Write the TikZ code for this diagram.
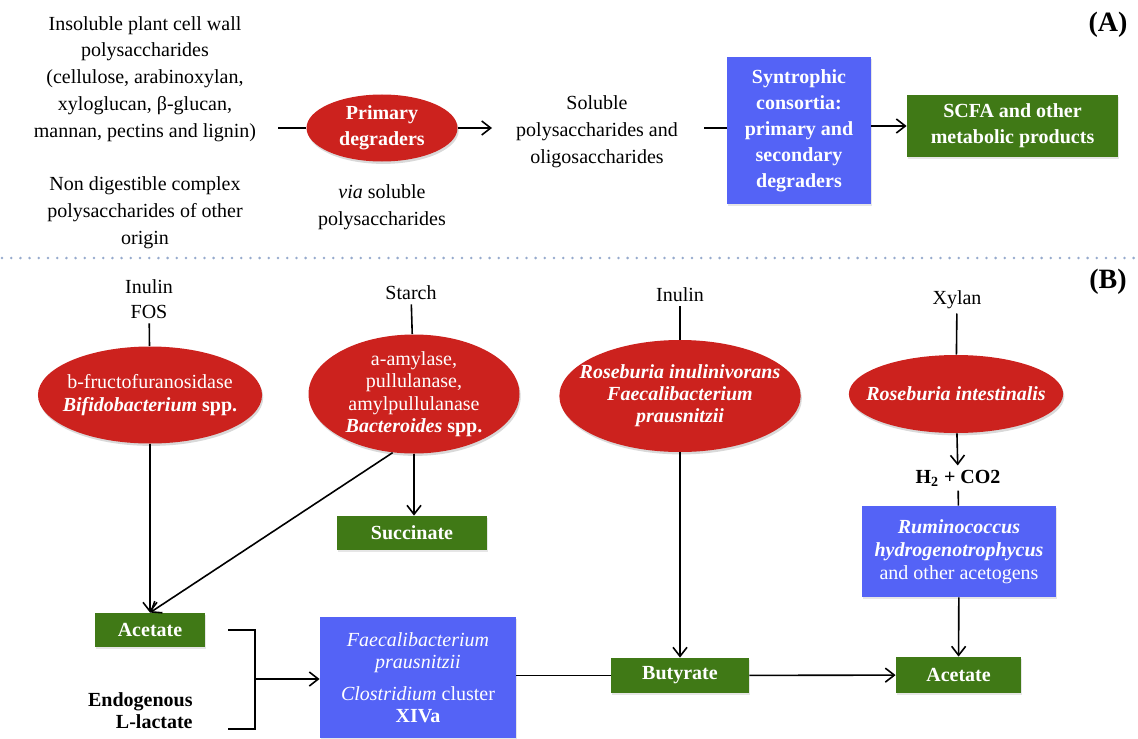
\documentclass[tikz,border=0pt]{standalone}
\usepackage{fontspec}
\setmainfont{Liberation Serif}
\usetikzlibrary{positioning, shapes.geometric, arrows.meta, shadows}

\definecolor{degred}{RGB}{204,34,30}
\definecolor{consblue}{RGB}{84,99,246}
\definecolor{prodgreen}{RGB}{64,121,22}
\definecolor{dotblue}{RGB}{150,170,205}

\begin{document}
\begin{tikzpicture}[x=0.5pt, y=-0.5pt, >={Straight Barb[length=4.5pt, width=7pt]},
    every node/.style={inner sep=2pt},
    plain/.style={align=center, font=\fontsize{10}{13.4}\selectfont},
    degrader/.style={ellipse, fill=degred, text=white, align=center, inner sep=0pt,
        font=\fontsize{10}{11.5}\selectfont,
        drop shadow={shadow xshift=0.6pt, shadow yshift=-1.2pt, opacity=0.3}},
    consortium/.style={rectangle, fill=consblue, text=white, align=center, inner sep=0pt,
        drop shadow={shadow xshift=0.5pt, shadow yshift=-1pt, opacity=0.2}},
    product/.style={rectangle, fill=prodgreen, text=white, align=center, inner sep=0pt,
        font=\bfseries\fontsize{10}{13}\selectfont,
        drop shadow={shadow xshift=0.5pt, shadow yshift=-1pt, opacity=0.2}},
    flow/.style={line width=0.8pt}]

    \useasboundingbox (0,0) rectangle (1138,738);

    % Part A
    \node[plain] (insol) at (145,79) {Insoluble plant cell wall\\polysaccharides\\(cellulose, arabinoxylan,\\xyloglucan, β-glucan,\\mannan, pectins and lignin)};
    \node[plain] (nondig) at (145,213) {Non digestible complex\\polysaccharides of other\\origin};
    \node[degrader, font=\bfseries\fontsize{10}{13}\selectfont, minimum width=75.5pt, minimum height=33.5pt] (prim) at (382,128) {Primary\\degraders};
    \node[plain] (via) at (382,207) {\textit{via} soluble\\polysaccharides};
    \node[plain] (sol) at (597,132) {Soluble\\polysaccharides and\\oligosaccharides};
    \node[consortium, font=\bfseries\fontsize{10}{13}\selectfont, minimum width=72pt, minimum height=73.5pt] (synt) at (799,130.5) {Syntrophic\\consortia:\\primary and\\secondary\\degraders};
    \node[product, minimum width=105.5pt, minimum height=31pt] (scfa) at (1012.5,126) {SCFA and other\\metabolic products};
    \node[font=\bfseries\fontsize{14}{16}\selectfont] (labA) at (1108,25) {(A)};

    \coordinate (insolend) at (278,128);
    \coordinate (solin) at (492,128);
    \coordinate (solout) at (704,128);

    \draw[flow] (insolend) -- (prim.west);
    \draw[flow, ->] (prim.east) -- (solin);
    \draw[flow] (solout) -- (synt.west |- solout);
    \draw[flow, ->] (synt.east |- scfa.west) -- (scfa.west);

    % dotted separator
    \draw[dotblue, line width=1.4pt, line cap=round, dash pattern=on 0pt off 4.6pt] (2,258) -- (1136,258);

    % Part B substrates
    \node[plain, font=\fontsize{10}{12.5}\selectfont] (inulinA) at (149,299.5) {Inulin\\FOS};
    \node[plain] (starch) at (411,293) {Starch};
    \node[plain] (inulinB) at (680,295) {Inulin};
    \node[plain] (xylan) at (957,300) {Xylan};
    \node[font=\bfseries\fontsize{14}{16}\selectfont] (labB) at (1108,282) {(B)};

    % Part B degraders
    \node[degrader, minimum width=112pt, minimum height=48.5pt, inner xsep=-4pt] (bifido) at (150,395) {b-fructofuranosidase\\\textbf{\textit{Bifidobacterium} spp.}};
    \node[degrader, font=\fontsize{10}{11.2}\selectfont, minimum width=105.5pt, minimum height=59.5pt, inner ysep=-1pt] (bact) at (414,394) {a-amylase,\\pullulanase,\\amylpullulanase\\\textbf{\textit{Bacteroides} spp.}};
    \node[degrader, font=\bfseries\itshape\fontsize{10}{11}\selectfont, minimum width=120pt, minimum height=56pt, inner xsep=-7.5pt] (rosinu) at (680,396) {Roseburia inulinivorans\\Faecalibacterium\\prausnitzii};
    \node[degrader, font=\bfseries\itshape\fontsize{10}{11.5}\selectfont, minimum width=106pt, minimum height=39pt, inner xsep=-7pt] (rosint) at (956,394) {Roseburia intestinalis};

    \node[plain, font=\bfseries\fontsize{10}{12}\selectfont] (h2) at (958,478) {H\textsubscript{2} + CO2};

    % Part B consortia
    \node[consortium, font=\fontsize{10}{11.5}\selectfont, minimum width=97pt, minimum height=45.5pt] (rumi) at (959,551.5) {\textbf{\textit{Ruminococcus}}\\\textbf{\textit{hydrogenotrophycus}}\\and other acetogens};
    \node[consortium, font=\fontsize{10}{11}\selectfont, minimum width=98pt, minimum height=60.5pt] (clost) at (418,677.5) {\textit{Faecalibacterium}\\\textit{prausnitzii}\\[5pt]\textit{Clostridium} cluster\\\textbf{XIVa}};

    % Part B products
    \node[product, minimum width=75pt, minimum height=17pt] (succ) at (412,533) {Succinate};
    \node[product, minimum width=55pt, minimum height=17pt] (acetA) at (150,630) {Acetate};
    \node[product, minimum width=69pt, minimum height=17.5pt] (butyr) at (680,675.5) {Butyrate};
    \node[product, minimum width=62.5pt, minimum height=18pt] (acetB) at (958.5,675) {Acetate};
    \node[font=\bfseries\fontsize{10}{11}\selectfont, align=right, anchor=east] (endo) at (197,711) {Endogenous\\L-lactate};

    % bracket
    \coordinate (brtop) at (228,630);
    \coordinate (brbot) at (228,729);
    \coordinate (brmid) at (255,679);
    \draw[flow] (brtop) -- (brmid |- brtop) -- (brmid |- brbot) -- (brbot);
    \draw[flow, ->] (brmid) -- (clost.west |- brmid);

    % Part B connectors
    \draw[flow] (inulinA) -- (bifido);
    \draw[flow] (starch) -- (bact);
    \draw[flow] (inulinB) -- (rosinu);
    \draw[flow] (xylan) -- (rosint);
    \draw[flow, ->] (bifido) -- (acetA);
    \draw[flow, ->] (bact.250) -- (acetA.north);
    \draw[flow, ->] (bact.south) -- (bact.south |- succ.north);
    \draw[flow, ->] (rosinu) -- (butyr);
    \draw[flow, ->] (rosint) -- (h2);
    \draw[flow] (h2) -- (rumi);
    \draw[flow, ->] (rumi) -- (acetB);
    \draw[flow] (clost.east |- butyr.west) -- (butyr.west);
    \draw[flow, ->] (butyr) -- (acetB);

\end{tikzpicture}
\end{document}
